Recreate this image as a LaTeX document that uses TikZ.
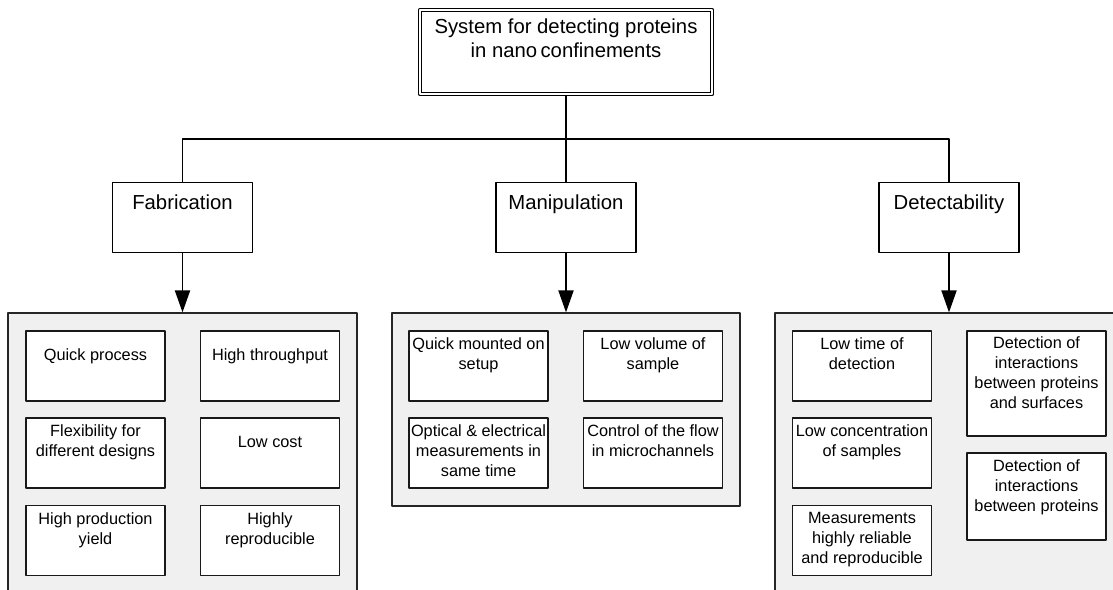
\documentclass[tikz,border=0pt]{standalone}
\usepackage{fontspec}
\setmainfont{Liberation Sans}
\usetikzlibrary{arrows.meta}
\definecolor{grp}{HTML}{F0F0F0}
\begin{document}
\begin{tikzpicture}[x=1pt, y=-1pt, line join=round, >={Triangle[width=15pt,length=22pt]},
    title/.style={draw, double, double distance=2.4pt, line width=1.1pt, fill=white, minimum width=292pt, minimum height=84pt, inner sep=0pt},
    cat/.style={draw, line width=1.9pt, minimum width=140pt, minimum height=70pt, inner sep=0pt},
    group/.style={draw=black!85, line width=1.2pt, fill=grp, inner sep=0pt},
    item/.style={draw=black!90, line width=1.2pt, fill=white, minimum width=139pt, minimum height=70pt, inner sep=0pt},
    txt/.style={anchor=north, align=center, inner sep=0pt, font=\fontsize{16.3}{20}\selectfont},
    bigtxt/.style={anchor=north, align=center, inner sep=0pt, font=\fontsize{20.3}{24}\selectfont}]
    \useasboundingbox (0,0) rectangle (1113,589);
    \clip (0,0) rectangle (1113,589);
    % root
    \node[title] (sys) at (566,52) {};
    \node[bigtxt] (syst) at ([yshift=-9.5pt]sys.north) {System for detecting proteins\\in nano\,confinements};
    % categories
    \node[cat] (fab) at (182.5,217.5) {};
    \node[cat] (man) at (566,217.5) {};
    \node[cat] (det) at (949,217.5) {};
    \foreach \nm/\txt in {fab/Fabrication, man/Manipulation, det/Detectability}
        \node[bigtxt] (\nm t) at ([yshift=-13.5pt]\nm.north) {\txt};
    % groups
    \node[group, minimum width=349pt, minimum height=340pt] (fabgrp) at (182.5,483) {};
    \node[group, minimum width=348pt, minimum height=193pt] (mangrp) at (566,409.5) {};
    \node[group, minimum width=348pt, minimum height=340pt] (detgrp) at (949,483) {};
    % connectors
    \coordinate (bus) at (566,139);
    \draw[line width=1.9pt] (sys.south) -- (bus);
    \draw[line width=1.9pt] (fab.north) |- (bus) -| (det.north);
    \draw[line width=1.9pt] (bus) -- (man.north);
    \foreach \nm in {fab, man, det}
        \draw[->, line width=1.9pt] (\nm.south) -- (\nm grp.north);
    % items
    \foreach \nm/\x/\y/\h/\dy/\txt in {
        f1/95.5/366/70/18.3/{Quick process},
        f2/270/366/70/18.3/{High throughput},
        f3/95.5/453/70/7.3/{Flexibility for\\different designs},
        f4/270/453/70/18.3/{Low cost},
        f5/95.5/540.5/70/7.3/{High production\\yield},
        f6/270/540.5/70/7.3/{Highly\\reproducible},
        m1/478.5/366/70/7.3/{Quick mounted on\\setup},
        m2/653/366/70/7.3/{Low volume of\\sample},
        m3/478.5/453/70/7.3/{Optical \& electrical\\measurements in\\same time},
        m4/653/453/70/7.3/{Control of the flow\\in microchannels},
        d1/862/366/70/7.3/{Low time of\\detection},
        d2/862/453/70/7.3/{Low concentration\\of samples},
        d3/862/540.5/70/7.3/{Measurements\\highly reliable\\and reproducible},
        d4/1036.5/383.5/105/6.3/{Detection of\\interactions\\between proteins\\and surfaces},
        d5/1036.5/496.5/87/7.3/{Detection of\\interactions\\between proteins}}{
        \node[item, minimum height=\h pt] (\nm) at (\x,\y) {};
        \node[txt] (\nm t) at ([yshift=-\dy pt]\nm.north) {\txt};
    }
\end{tikzpicture}
\end{document}
